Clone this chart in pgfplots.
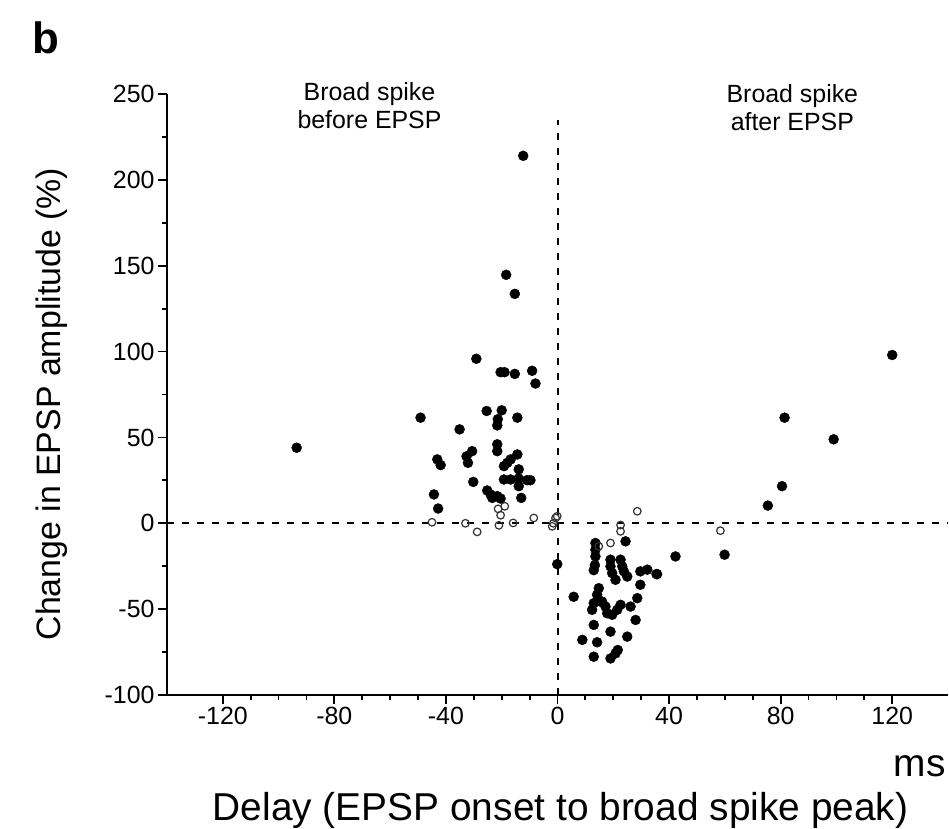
\documentclass[border=0pt]{standalone}
\usepackage{pgfplots}
\pgfplotsset{compat=1.18}
\usepackage{fontspec}
\setmainfont{Liberation Sans}
\pgfplotstableread{
x y
-93.5 44
-12.3 214
-18.4 144.7
-15.3 133.6
-29.1 95.8
-20.4 88
-19.0 88
-15.3 87
-9.1 88.8
-7.9 81.4
-49.1 61.5
-25.4 65.4
-20 65.8
-21.4 60.6
-21.6 57
-14.4 61.5
-35.1 54.7
-21.6 46
-21.6 42
-30.6 42
-32.6 39
-32.1 35.2
-43.1 37.2
-41.9 33.9
-14.4 40.1
-16.8 37.2
-18 35.2
-19.2 33.3
-13.9 31.4
-19.2 25.5
-16.8 25.5
-13.9 26.1
-10.9 25.1
-9.7 25.1
-13.9 21.6
-30.2 24.1
-25.2 19.1
-24 16.8
-23.4 14.8
-21.6 15.8
-20.4 14.4
-13 14.8
-44.3 16.8
-42.8 8.6
-0.1 -23.8
24.4 -10.5
42.3 -19.3
13.6 -11.5
13.6 -15.4
13.6 -19.3
13.4 -24.4
13.0 -27.3
19 -21.2
19 -25.1
19.6 -29
20.8 -32.9
22.6 -21.2
23.2 -25.1
23.8 -28
25 -31
29.7 -28
32.2 -27
35.7 -29.6
29.7 -35.8
5.8 -42.8
14.8 -37.8
14.2 -41.6
15.4 -45.6
13.0 -46.5
12.4 -50.4
16 -45.6
17.2 -48.5
17.8 -52.4
19.6 -53.3
21.4 -50.4
22.6 -47.5
26.2 -48.5
28.6 -43.6
28 -56.3
13 -59.2
19 -63.1
25 -66
8.9 -67.9
14.2 -69.3
13 -77.7
19 -78.7
20.8 -75.8
21.6 -73.8
120 98
81.4 61.5
99 48.9
80.5 21.6
75.4 10.3
59.9 -18.3
35.5 -29.6
}\filled
\pgfplotstableread{
x y
-21.3 8.4
-18.9 9.9
-20.4 4.7
-33 0
-28.8 -5
-21 -1.2
-15.9 0.2
-8.5 3.1
-1.9 -1.8
-0.7 3.1
-0.1 4.1
-1.5 0
-45 0.6
28.6 7
22.6 -1
22.6 -4.7
19 -11.5
14.8 -13.4
58.4 -4.3
}\open
\begin{document}
\begin{tikzpicture}
\useasboundingbox (-167bp,-134bp) rectangle (782bp,695bp);
\begin{axis}[
  at={(0,0)}, anchor=south west,
  scale only axis, width=781bp, height=601bp,
  xmin=-140, xmax=140, ymin=-100, ymax=250,
  axis lines*=left,
  axis line style={line width=2.4bp},
  xtick={-120,-80,...,120}, minor x tick num=3,
  ytick={-100,-50,...,250}, minor y tick num=1,
  tick align=outside,
  major tick length=9bp, minor tick length=5bp,
  every tick/.style={line width=1.8bp, black},
  ticklabel style={font=\fontsize{25}{25}\selectfont},
  /pgf/number format/assume math mode=true,
  clip=false,
  xlabel={Delay (EPSP onset to broad spike peak)},
  xlabel style={at={(axis description cs:0.504,-0.208)}, anchor=base, inner sep=0pt, font=\fontsize{39}{39}\selectfont},
  ylabel={Change in EPSP amplitude (\%)},
  ylabel style={at={(axis description cs:-0.147,0.484)}, anchor=center, font=\fontsize{34}{34}\selectfont},
]
\addplot[black, line width=2bp, dash pattern=on 7bp off 8bp] coordinates {(-140,0) (140,0)};
\addplot[black, line width=2bp, dash pattern=on 7bp off 8bp] coordinates {(0,-100) (0,235)};
\addplot[only marks, mark=*, mark size=5bp, mark options={black, fill=black}] table[x=x,y=y] {\filled};
\addplot[only marks, mark=o, mark size=3.8bp, mark options={black!80, line width=1.2bp}] table[x=x,y=y] {\open};
\node[align=center, font=\fontsize{25}{28}\selectfont] at (axis cs:-67.4,243) {Broad spike\\before EPSP};
\node[align=center, font=\fontsize{25}{28}\selectfont] at (axis cs:84.2,242) {Broad spike\\after EPSP};
\node[anchor=base, font=\fontsize{39}{39}\selectfont] at (axis description cs:0.964,-0.136) {ms};
\node[font=\fontsize{44}{44}\selectfont\bfseries] at (axis description cs:-0.155,1.093) {b};
\end{axis}
\end{tikzpicture}
\end{document}
